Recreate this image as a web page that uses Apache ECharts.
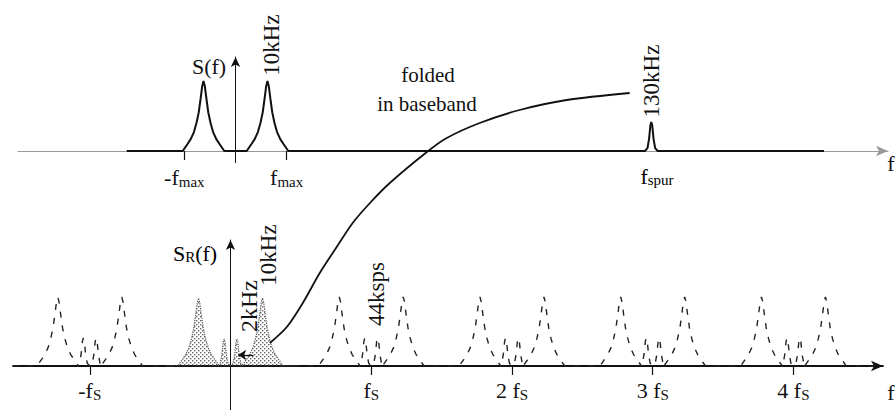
<!DOCTYPE html>
<html><head><meta charset="utf-8">
<script src="https://cdn.jsdelivr.net/npm/echarts@6/dist/echarts.min.js"></script>
<style>html,body{margin:0;padding:0;background:#fff}#c{width:896px;height:419px}</style>
</head><body><div id="c"></div>
<script>
// ---------- data (kHz / relative spectral height) ----------
const fsK = 44;                       // sample rate, kHz
const xMin = -68, xMax = 204;         // frequency span shown, kHz
// generic peak profile
const peakOffsets = [-6.5, -5, -4, -3, -2.2, -1.5, -0.9, -0.4, 0, 0.4, 0.9, 1.5, 2.2, 3, 4, 5, 6.5];
const peakShape   = [0, 0.1, 0.17, 0.27, 0.4, 0.55, 0.75, 0.93, 1, 0.93, 0.75, 0.55, 0.4, 0.27, 0.17, 0.1, 0];
// narrow spur profile
const spurOffsets = [-2, -1.2, -0.7, -0.3, 0, 0.3, 0.7, 1.2, 2];
const spurShape   = [0, 0.1, 0.42, 0.88, 1, 0.88, 0.42, 0.1, 0];
// top: S(f)
const topSignalRange = [-34, 184];
const topPeakCenters = [-10, 10];
const topPeakHeights = [0.7, 0.7];
const spurCenter = 130;
const spurHeight = 0.29;
const topAxisBelow = -0.12;           // vertical axis extends below baseline
// bottom: S_R(f)
const basePeakCenters = [-10, 10];
const basePeakHeight = 0.68;
const foldedSpurCenters = [-2, 2];
const foldedSpurHeight = 0.27;
const imageOrders = [-1, 1, 2, 3, 4];
const imagePeakHeight = 0.69;
const imageSpurHeight = 0.28;
const bottomAxisBelow = -0.44;
// "folded in baseband" curve (bottom-panel units)
const foldCurveX = [12.3, 17.6, 22.6, 27.9, 33.2, 38.2, 43.6, 49.8, 61.4, 67.6, 77.9, 90.4, 105.1, 124.8];
const foldCurveY = [0.23, 0.39, 0.63, 0.93, 1.19, 1.43, 1.63, 1.83, 2.14, 2.28, 2.43, 2.56, 2.66, 2.73];
// tick labels
const topTickValues = [-16, 16];
const topTickLabels = ['{f|-f}{s|max}', '{f|f}{s|max}'];
const bottomTickValues = [-44, 44, 88, 132, 176];
const bottomTickLabels = ['{f|-f}{s|S}', '{f|f}{s|S}', '{f|2 f}{s|S}', '{f|3 f}{s|S}', '{f|4 f}{s|S}'];

// ---------- build ----------
function peakPoints(center, height, offs, shape) {
  return offs.map((o, i) => [center + o, +(height * shape[i]).toFixed(4)]);
}
const topSignal = [[topSignalRange[0], 0]];
topPeakCenters.forEach((c, i) => topSignal.push(...peakPoints(c, topPeakHeights[i], peakOffsets, peakShape)));
topSignal.push(...peakPoints(spurCenter, spurHeight, spurOffsets, spurShape));
topSignal.push([topSignalRange[1], 0]);

const baseband = [[-20, 0]];
baseband.push(...peakPoints(basePeakCenters[0], basePeakHeight, peakOffsets, peakShape));
foldedSpurCenters.forEach(c => baseband.push(...peakPoints(c, foldedSpurHeight, spurOffsets, spurShape)));
baseband.push(...peakPoints(basePeakCenters[1], basePeakHeight, peakOffsets, peakShape));
baseband.push([20, 0]);

const images = [[xMin, 0]];
imageOrders.forEach(n => {
  const c = n * fsK;
  images.push(...peakPoints(c - 10, imagePeakHeight, peakOffsets, peakShape));
  images.push(...peakPoints(c - 2, imageSpurHeight, spurOffsets, spurShape));
  images.push(...peakPoints(c + 2, imageSpurHeight, spurOffsets, spurShape));
  images.push(...peakPoints(c + 10, imagePeakHeight, peakOffsets, peakShape));
});
images.push([xMax, 0]);

const foldCurve = foldCurveX.map((x, i) => [x, foldCurveY[i]]);

// stipple pattern
const pc = document.createElement('canvas');
pc.width = 4; pc.height = 4;
const pctx = pc.getContext('2d');
pctx.fillStyle = '#666';
pctx.fillRect(0, 0, 1.4, 1.4);
pctx.fillRect(2, 2, 1.4, 1.4);

const FONT = '"Liberation Serif", "DejaVu Serif", serif';
const ink = '#111';
const richTick = {
  f: { fontFamily: FONT, fontSize: 22, color: ink },
  s: { fontFamily: FONT, fontSize: 15, color: ink, padding: [8, 0, 0, 0] }
};
function txt(x, y, text, rot, size) {
  return {
    type: 'text', x: x, y: y, rotation: rot ? Math.PI / 2 : 0,
    style: { text: text, fontFamily: FONT, fontSize: size || 22, fill: ink, align: 'center', verticalAlign: 'middle' }
  };
}
const hiddenY = {
  type: 'value', min: 0, splitLine: { show: false }, axisTick: { show: false }, axisLabel: { show: false },
  axisLine: { show: true, lineStyle: { color: ink, width: 1 }, symbol: ['none', 'arrow'], symbolSize: [7, 10] }
};

const chart = echarts.init(document.getElementById('c'), null, { renderer: 'svg' });
chart.setOption({
  animation: false,
  backgroundColor: '#fff',
  grid: [
    { left: 18, width: 870, top: 57, height: 94, outerBoundsMode: 'none', containLabel: false },
    { left: 13, width: 870, top: 240, height: 126, outerBoundsMode: 'none', containLabel: false }
  ],
  xAxis: [
    {
      gridIndex: 0, type: 'value', min: xMin, max: xMax,
      splitLine: { show: false },
      axisLine: { lineStyle: { color: '#999', width: 1.2 }, symbol: ['none', 'arrow'], symbolSize: [8, 12] },
      axisTick: { customValues: topTickValues, length: 9, lineStyle: { color: ink, width: 1.2 } },
      axisLabel: {
        customValues: topTickValues, margin: 15,
        formatter: v => topTickLabels[topTickValues.indexOf(v)], rich: richTick
      }
    },
    {
      gridIndex: 1, type: 'value', min: xMin, max: xMax,
      splitLine: { show: false },
      axisLine: { lineStyle: { color: ink, width: 1.8 }, symbol: ['none', 'arrow'], symbolSize: [8, 12] },
      axisTick: { customValues: bottomTickValues, length: 9, lineStyle: { color: ink, width: 1.2 } },
      axisLabel: {
        customValues: bottomTickValues, margin: 13,
        formatter: v => bottomTickLabels[bottomTickValues.indexOf(v)], rich: richTick
      }
    }
  ],
  yAxis: [
    Object.assign({ gridIndex: 0, max: 0.94 }, hiddenY),
    Object.assign({ gridIndex: 1, max: 1.26 }, hiddenY)
  ],
  series: [
    {
      type: 'line', xAxisIndex: 0, yAxisIndex: 0, data: [[0, 0], [0, topAxisBelow]], symbol: 'none',
      clip: false, lineStyle: { color: ink, width: 1 }, z: 2
    },
    {
      type: 'line', xAxisIndex: 1, yAxisIndex: 1, data: [[0, 0], [0, bottomAxisBelow]], symbol: 'none',
      clip: false, lineStyle: { color: ink, width: 1 }, z: 2
    },
    {
      type: 'line', xAxisIndex: 0, yAxisIndex: 0, data: topSignal, symbol: 'none',
      lineStyle: { color: ink, width: 2 }, z: 3
    },
    {
      type: 'line', xAxisIndex: 1, yAxisIndex: 1, data: images, symbol: 'none',
      lineStyle: { color: '#222', width: 1.4, type: [6, 8] }, z: 3
    },
    {
      type: 'line', xAxisIndex: 1, yAxisIndex: 1, data: baseband, symbol: 'none',
      lineStyle: { color: '#555', width: 1.2, type: 'dotted' },
      areaStyle: { color: { image: pc, repeat: 'repeat' }, opacity: 1 },
      markLine: {
        silent: true, symbol: ['none', 'arrow'], symbolSize: 8,
        label: { show: false },
        lineStyle: { color: ink, width: 1.3, type: 'solid' },
        data: [[{ coord: [7.2, 0.11] }, { coord: [2.4, 0.11] }]]
      },
      z: 4
    },
    {
      type: 'line', xAxisIndex: 1, yAxisIndex: 1, data: foldCurve, symbol: 'none',
      smooth: 0.3, clip: false, lineStyle: { color: ink, width: 1.8 }, z: 5
    }
  ],
  graphic: [
    txt(209, 66, 'S(f)'),
    txt(271, 45, '10kHz', true, 23),
    txt(428, 75, 'folded', false, 21),
    txt(427, 104, 'in baseband', false, 21),
    txt(651, 81, '130kHz', true, 23),
    { type: 'text', x: 657, y: 176, style: { text: '{f|f}{s|spur}', rich: richTick, align: 'center', verticalAlign: 'middle' } },
    txt(891, 163, 'f'),
    { type: 'text', x: 195, y: 253, style: { text: '{f|S}{s|R}{f|(f)}', rich: richTick, align: 'center', verticalAlign: 'middle' } },
    txt(249, 306, '2kHz', true, 24),
    txt(268, 255, '10kHz', true, 23),
    txt(376, 294, '44ksps', true, 23),
    txt(891, 392, 'f')
  ]
});
</script>
</body></html>
